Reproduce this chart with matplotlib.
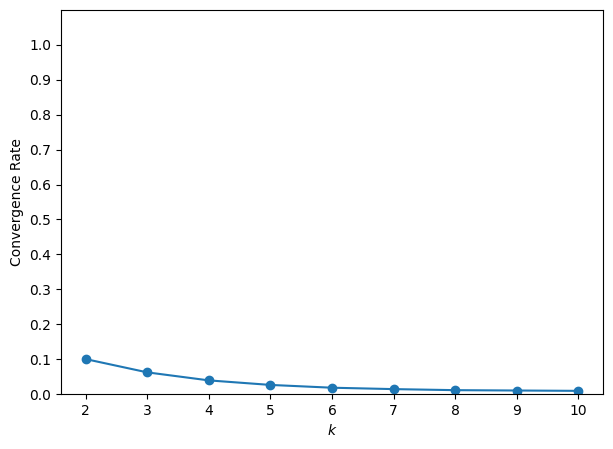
import numpy as np
import matplotlib.pyplot as plt

k_values = [2, 3, 4, 5, 6, 7, 8, 9, 10]
convergence_rate = [0.100, 0.062, 0.039, 0.026, 0.018, 0.014, 0.011, 0.010, 0.009]

fig = plt.figure(figsize=(6.13, 4.49), dpi=100)
ax = fig.add_axes([61 / 613, 55 / 449, 542 / 613, 384 / 449])
ax.plot(k_values, convergence_rate, marker='o')
ax.set_xlabel('$k$')
ax.set_ylabel('Convergence Rate')
ax.set_ylim(0, 1.1)
ax.set_yticks(np.arange(0, 1.01, 0.1))
fig.savefig('out.png', dpi=100)
